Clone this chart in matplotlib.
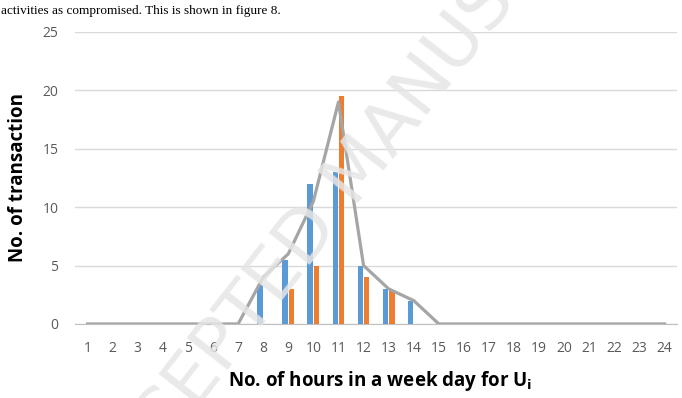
import numpy as np
import matplotlib
matplotlib.use("Agg")
import matplotlib.pyplot as plt

# horas del dia
hours = list(range(1, 25))
blue_vals = [0, 0, 0, 0, 0, 0, 0, 3.3, 5.5, 12, 13, 5, 3, 2,
             0, 0, 0, 0, 0, 0, 0, 0, 0, 0]
orange_vals = [0, 0, 0, 0, 0, 0, 0, 0, 3, 5, 19.5, 4, 2.8, 0,
               0, 0, 0, 0, 0, 0, 0, 0, 0, 0]
line_vals = [0, 0, 0, 0, 0, 0, 0, 4, 6, 10.5, 19, 5, 3, 2,
             0, 0, 0, 0, 0, 0, 0, 0, 0, 0]
y_ticks = [0, 5, 10, 15, 20, 25]

fig = plt.figure(figsize=(6.82, 3.98), dpi=100)
ax = fig.add_axes([0.110, 0.186, 0.883, 0.734])

x = np.arange(len(hours))
ax.bar(x - 0.125, blue_vals, width=0.22, color='#5b9bd5', zorder=3)
ax.bar(x + 0.125, orange_vals, width=0.22, color='#ed7d31', zorder=3)
ax.plot(x, line_vals, color='#a5a5a5', linewidth=2.3, zorder=4)

ax.set_xlim(-0.5, len(hours) - 0.5)
ax.set_ylim(0, 25)
ax.set_yticks(y_ticks)
ax.set_xticks(x)
ax.set_xticklabels([str(h) for h in hours])
ax.yaxis.grid(True, color='#d9d9d9', linewidth=1, zorder=0)
for s in ['top', 'right', 'left']:
    ax.spines[s].set_visible(False)
ax.spines['bottom'].set_color('#bfbfbf')
ax.tick_params(axis='both', length=0, colors='#595959', labelsize=10)
ax.tick_params(axis='x', pad=12)
ax.tick_params(axis='y', pad=12)
for lab in ax.get_xticklabels() + ax.get_yticklabels():
    lab.set_family('Open Sans')

ax.set_ylabel('No. of transaction', fontsize=13.5, fontweight='bold',
              family='Open Sans', labelpad=10)
fig.text(0.557, 0.012, 'No. of hours in a week day for U$_\\mathbf{i}$',
         ha='center', va='bottom', fontsize=13.5, fontweight='bold',
         family='Open Sans', zorder=12)

fig.text(0.002, 0.973, 'activities as compromised. This is shown in figure 8.',
         ha='left', va='center', fontsize=9.5, family='Liberation Serif')

# marca de agua
fig.text(0.528, 0.573, 'ACCEPTED MANUSCRIPT', ha='center', va='center',
         rotation=52, fontsize=52, color='#e6e6e6', alpha=0.85,
         family='DejaVu Sans', zorder=10)

fig.savefig('out.png', dpi=100)
